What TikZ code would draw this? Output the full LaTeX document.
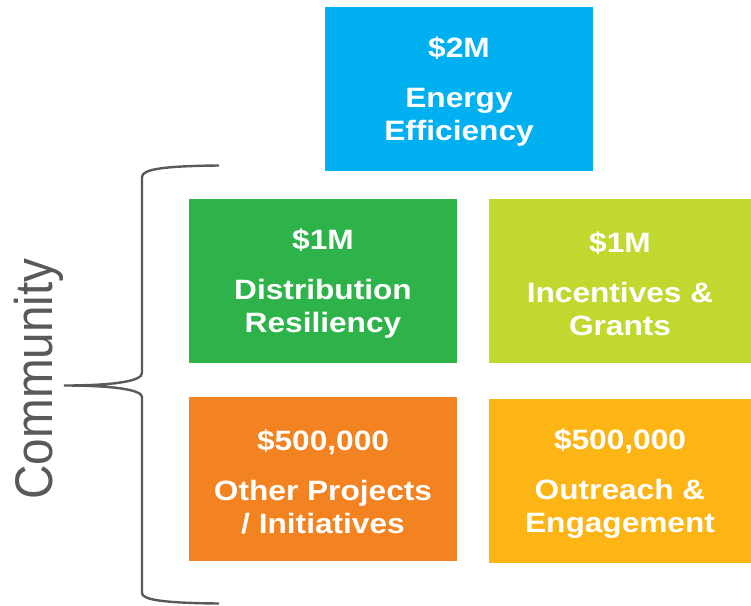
\documentclass[tikz,border=0pt]{standalone}
\usepackage{fontspec}
\setmainfont{Liberation Sans}
\newfontfamily\fundfont{Liberation Sans}[FakeStretch=1.13]
\newfontfamily\sidefont{Liberation Sans}[FakeStretch=0.9]
\usepackage{tikz}
\definecolor{energy}{HTML}{00B0F0}
\definecolor{resiliency}{HTML}{2EB34A}
\definecolor{incentives}{HTML}{C1D82F}
\definecolor{initiatives}{HTML}{F38221}
\definecolor{outreach}{HTML}{FDB415}
\colorlet{bracegray}{black!65}

\begin{document}
\begin{tikzpicture}[
  x=1pt, y=-1pt,
  fund/.style 2 args={fill=#1, minimum width=#2, minimum height=163.5pt,
    inner sep=0pt, outer sep=0pt, text=white, align=center,
    font={\fontsize{28}{33}\selectfont\fundfont\bfseries}},
  brace/.style={draw=bracegray, line width=2.4pt},
]
\useasboundingbox (0,0) rectangle (751,605);
\foreach \name/\cx/\cy/\boxw/\col/\amt/\what in {
  energy/459/88.8/268pt/energy/{\$2M}/{Energy\\Efficiency},
  resiliency/323/280.8/268pt/resiliency/{\$1M}/{Distribution\\Resiliency},
  incentives/620/280.8/262pt/incentives/{\$1M}/{Incentives \&\\Grants},
  initiatives/323/478.8/268pt/initiatives/{\$500,000}/{Other Projects\\/ Initiatives},
  outreach/620/480.8/262pt/outreach/{\$500,000}/{Outreach \&\\Engagement}}
{
  \node[fund={\col}{\boxw}] (\name) at (\cx,\cy) {\rule{0pt}{27pt}\amt\\[17pt]\what};
}
% brace round the community boxes
\coordinate (tip) at (64,385.5);
\draw[brace] (219,165.5) .. controls (165,166) and (142,169) .. (142,177)
  -- (142,373) .. controls (142,381) and (115,385.5) .. (tip)
  .. controls (115,385.5) and (142,390) .. (142,397)
  -- (142,593) .. controls (142,600) and (165,603) .. (219,603.5);
\node[rotate=90, anchor=base, text=bracegray, inner sep=0pt,
  font={\fontsize{53}{60}\selectfont\sidefont}] (community) at (52,379) {Community};
\end{tikzpicture}
\end{document}
